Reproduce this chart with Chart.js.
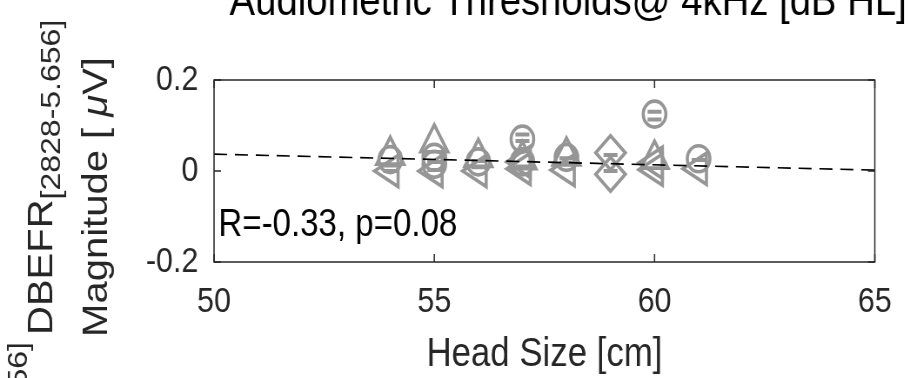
<!DOCTYPE html>
<html>
<head>
<meta charset="utf-8">
<script src="https://cdn.jsdelivr.net/npm/chart.js@4.4.1/dist/chart.umd.min.js"></script>
<style>
  html, body { margin: 0; padding: 0; background: #fff; overflow: hidden; }
  #wrap { width: 1044px; height: 378px; transform: scale(0.87, 1); transform-origin: 0 0; }
</style>
</head>
<body>
<div id="wrap"><canvas id="c" width="1044" height="378"></canvas></div>
<script>
// Head size (cm) and DBEFR magnitude (µV), grouped by marker shape
const circleX   = [54, 55, 55, 56, 57, 57, 58, 60, 61];
const circleY   = [0.025, 0.03, 0.015, 0.02, 0.07, 0.02, 0.03, 0.125, 0.027];
const triUpX    = [54, 55, 56, 57, 58, 60];
const triUpY    = [0.035, 0.062, 0.03, 0.025, 0.033, 0.026];
const triLeftX  = [54, 55, 56, 57, 57, 58, 60, 60, 61];
const triLeftY  = [0.0, 0.0, 0.0, 0.005, 0.02, 0.002, 0.018, 0.003, 0.005];
const diamondX  = [59, 59];
const diamondY  = [0.04, -0.007];
const barX      = [54, 54, 55, 55, 56, 56, 57, 57, 57, 58, 58, 59, 59, 60, 60, 61];
const barY      = [0.012, 0.0, 0.02, 0.002, 0.022, 0.008, 0.08, 0.066, 0.01, 0.028, 0.018, 0.035, 0.0, 0.13, 0.113, 0.024];

// Linear fit over the full x range
const fitX = [50, 65];
const fitY = [0.037, 0.002];

// Axis ticks
const xTicks = [50, 55, 60, 65];
const yTicks = [-0.2, 0, 0.2];

const titleText = 'Audiometric Thresholds@ 4kHz [dB HL]';
const xLabel = 'Head Size [cm]';
const statText = 'R=-0.33, p=0.08';

const FONT = "'Liberation Sans', Arial, Helvetica, sans-serif";
const GRAY = 'rgb(150,150,150)';
const INK = '#262626';

const pts = (xs, ys) => xs.map((x, i) => ({ x: x, y: ys[i] }));

function markerSet(data, style, radius, rotation, width) {
  return {
    type: 'scatter',
    data: data,
    pointStyle: style,
    pointRadius: radius,
    pointRotation: rotation || 0,
    pointBorderColor: GRAY,
    pointBackgroundColor: 'rgba(0,0,0,0)',
    pointBorderWidth: width || 3.6,
    pointHoverRadius: radius,
    showLine: false,
    order: 1
  };
}

function rotatedText(ctx, x, yStart, parts) {
  ctx.save();
  ctx.translate(x, yStart);
  ctx.rotate(-Math.PI / 2);
  ctx.textAlign = 'left';
  ctx.textBaseline = 'alphabetic';
  let cx = 0;
  parts.forEach(p => {
    ctx.font = p.font;
    ctx.fillText(p.text, cx, p.dy || 0);
    cx += ctx.measureText(p.text).width;
  });
  ctx.restore();
}

function partsWidth(ctx, parts) {
  let w = 0;
  parts.forEach(p => { ctx.font = p.font; w += ctx.measureText(p.text).width; });
  return w;
}

const decor = {
  id: 'decor',
  afterDraw(chart) {
    const ctx = chart.ctx;
    const a = chart.chartArea;
    const xs = chart.scales.x, ys = chart.scales.y;

    // axes box with inward ticks
    ctx.save();
    ctx.strokeStyle = INK;
    ctx.lineWidth = 1.5;
    ctx.strokeRect(a.left, a.top, a.right - a.left, a.bottom - a.top);
    const tl = 8;
    ctx.beginPath();
    xTicks.forEach(v => {
      const px = xs.getPixelForValue(v);
      ctx.moveTo(px, a.bottom); ctx.lineTo(px, a.bottom - tl);
      ctx.moveTo(px, a.top); ctx.lineTo(px, a.top + tl);
    });
    yTicks.forEach(v => {
      const py = ys.getPixelForValue(v);
      ctx.moveTo(a.left, py); ctx.lineTo(a.left + tl, py);
      ctx.moveTo(a.right, py); ctx.lineTo(a.right - tl, py);
    });
    ctx.stroke();

    // correlation statistic
    ctx.fillStyle = '#000';
    ctx.font = '38px ' + FONT;
    ctx.textAlign = 'left';
    ctx.textBaseline = 'alphabetic';
    ctx.fillText(statText, a.left + 5, 236);

    // title (extends past the top edge)
    ctx.font = '44px ' + FONT;
    ctx.textAlign = 'center';
    ctx.fillText(titleText, 653, 15);

    // x-axis label
    ctx.fillStyle = INK;
    ctx.font = '40px ' + FONT;
    ctx.fillText(xLabel, (a.left + a.right) / 2, 366);

    // y-axis label, two lines
    const f40 = '40px ' + FONT, f32 = '32px ' + FONT;
    const magParts = [
      { text: 'Magnitude [ ', font: f40 },
      { text: 'μ', font: 'italic 40px ' + FONT },
      { text: 'V]', font: f40 }
    ];
    const mw = partsWidth(ctx, magParts);
    rotatedText(ctx, 123, 197 + mw / 2, magParts);
    rotatedText(ctx, 60, 335, [
      { text: 'DBEFR', font: f40 },
      { text: '[2828-5.656]', font: f32, dy: 9 }
    ]);
    // neighbouring label tail at the lower left
    const tail = [{ text: '5.656]', font: f32 }];
    rotatedText(ctx, 31, 342 + partsWidth(ctx, tail), tail);
    ctx.restore();
  }
};

new Chart(document.getElementById('c'), {
  type: 'scatter',
  data: {
    datasets: [
      {
        type: 'line',
        data: pts(fitX, fitY),
        borderColor: '#000',
        borderWidth: 1.7,
        borderDash: [15, 9],
        pointRadius: 0,
        fill: false,
        order: 0
      },
      markerSet(pts(barX, barY), 'line', 8, 0, 4),
      markerSet(pts(circleX, circleY), 'circle', 13),
      markerSet(pts(triUpX, triUpY), 'triangle', 18),
      markerSet(pts(triLeftX, triLeftY), 'triangle', 18, -90),
      markerSet(pts(diamondX, diamondY), 'rectRot', 17)
    ]
  },
  plugins: [decor],
  options: {
    responsive: false,
    animation: false,
    events: [],
    layout: { padding: { left: 0, right: 24.5, top: 80, bottom: 0 } },
    plugins: { legend: { display: false }, tooltip: { enabled: false }, title: { display: false } },
    scales: {
      x: {
        type: 'linear',
        min: 50, max: 65,
        afterFit(s) { s.height = 116; },
        afterBuildTicks(s) { s.ticks = xTicks.map(v => ({ value: v })); },
        grid: { display: false, drawTicks: false },
        border: { display: false },
        ticks: { color: INK, font: { family: FONT, size: 35 }, padding: 19, maxRotation: 0 }
      },
      y: {
        type: 'linear',
        min: -0.2, max: 0.2,
        afterFit(s) { s.width = 246; },
        afterBuildTicks(s) { s.ticks = yTicks.map(v => ({ value: v })); },
        grid: { display: false, drawTicks: false },
        border: { display: false },
        ticks: {
          color: INK, font: { family: FONT, size: 35 }, padding: 18,
          callback: v => (v === 0 ? '0' : String(Math.round(v * 10) / 10))
        }
      }
    }
  }
});
</script>
</body>
</html>
